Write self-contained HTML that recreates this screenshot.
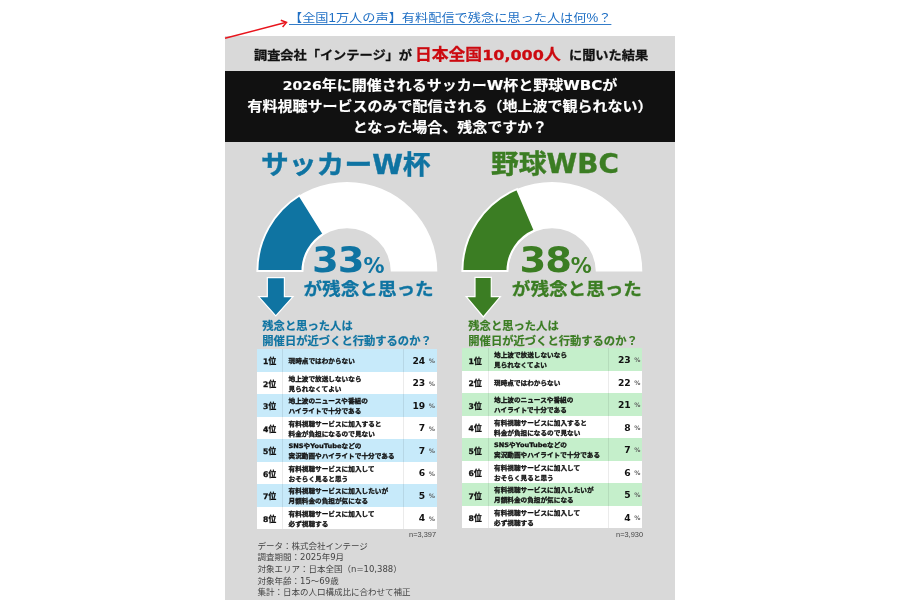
<!DOCTYPE html>
<html lang="ja">
<head>
<meta charset="utf-8">
<title>有料配信で残念に思った人は何%？</title>
<style>
html,body{margin:0;padding:0;background:#fff;}
body{width:900px;height:600px;position:relative;overflow:hidden;
  font-family:"DejaVu Sans","Noto Sans CJK JP",sans-serif;color:#111;}
.abs{position:absolute;white-space:nowrap;line-height:1;}
#panel{position:absolute;left:225px;top:36px;width:450px;height:564px;background:#d9d9d9;}
#banner{position:absolute;left:225px;top:71px;width:450px;height:71.2px;background:#111;}
#link{left:289px;top:11px;transform:scaleY(0.9);transform-origin:0 100%;font-size:13.2px;color:#1f6fc4;font-family:"Liberation Sans","Noto Sans CJK JP",sans-serif;
  text-decoration:underline;text-underline-offset:2px;}
.b{font-weight:bold;}
.sub{font-size:13.2px;font-weight:bold;color:#111;transform:scaleY(0.93);transform-origin:0 50%;-webkit-text-stroke:0.3px currentColor;}
.sub.red{color:#cc0a10;font-size:16.8px;}
.d{font-size:14px;}
.bl{left:225px;width:450px;text-align:center;color:#fff;font-weight:bold;font-size:15px;transform:scaleY(0.92);transform-origin:50% 50%;-webkit-text-stroke:0.2px #fff;}
.blue{color:#0f74a2;}
.green{color:#3b7d23;}
.title{font-size:27.8px;font-weight:bold;transform:scaleY(0.93);transform-origin:0 100%;-webkit-text-stroke:0.4px currentColor;}
.big{font-size:38.5px;font-weight:bold;letter-spacing:-1px;transform:scaleY(0.938);transform-origin:0 100%;}
.pct{font-size:21px;font-weight:bold;}
.zan{font-size:18.6px;font-weight:bold;transform:scaleY(0.94);transform-origin:0 50%;-webkit-text-stroke:0.3px currentColor;}
.q{font-size:11.3px;font-weight:bold;line-height:15px;white-space:nowrap;-webkit-text-stroke:0.2px currentColor;}
.tbl{position:absolute;}
.row{position:relative;height:22.5px;width:100%;background:#fff;}
.tb .row:nth-child(odd){background:#c7eafa;}
.tg .row:nth-child(odd){background:#c5efcb;}
.tg .row{height:22.5px;}
.row>div{position:absolute;top:0;height:100%;display:flex;align-items:center;white-space:nowrap;box-sizing:border-box;}
.row .r{left:0;width:26px;justify-content:center;font-size:7.7px;letter-spacing:0.3px;font-weight:bold;-webkit-text-stroke:0.3px #111;padding-top:0.8px;padding-left:0.6px;}
.row .l{left:25.6px;right:32.7px;border-left:1px solid rgba(0,0,0,0.08);border-right:1px solid rgba(0,0,0,0.08);padding-left:5.4px;padding-top:1.2px;
  font-size:6.65px;font-weight:bold;line-height:10px;-webkit-text-stroke:0.32px #111;}
.row .l span{display:inline-block;transform:scaleY(0.93);}
.row .v{right:0;width:32.7px;justify-content:flex-end;font-size:9.2px;font-weight:bold;padding-right:1.7px;}
.row .v i{font-style:normal;font-weight:bold;font-size:6.2px;color:#5a5a5a;margin-left:3.4px;width:6.2px;display:inline-block;position:relative;top:0.3px;}
.n{font-size:7.4px;color:#444;font-family:"Liberation Sans","Noto Sans CJK JP",sans-serif;}
#foot{left:257.5px;top:540.5px;font-size:8.5px;line-height:11.68px;color:#444;font-family:"DejaVu Sans","Noto Sans CJK JP",sans-serif;white-space:nowrap;}
</style>
</head>
<body>
<div id="panel"></div>
<div id="banner"></div>

<svg class="abs" style="left:0;top:0" width="900" height="600" viewBox="0 0 900 600">
  <line x1="225" y1="38.3" x2="285.5" y2="22.6" stroke="#e8141c" stroke-width="1.6"/>
  <path d="M280.8 20.3 L286.5 22.4 L282.6 27" fill="none" stroke="#e8141c" stroke-width="1.5"/>
</svg>

<div id="link" class="abs">【全国1万人の声】有料配信で残念に思った人は何%？</div>

<div class="abs sub" style="left:254px;top:48.5px">調査会社「インテージ」が</div>
<div class="abs sub red" style="left:415px;top:46.3px">日本全国<span style="font-size:16px">10,000</span>人</div>
<div class="abs sub" style="left:569px;top:48.5px">に聞いた結果</div>

<div class="abs bl" style="top:77.9px"><span class="d">2026</span>年に開催されるサッカーW杯と野球WBCが</div>
<div class="abs bl" style="top:99.4px">有料視聴サービスのみで配信される（地上波で観られない）</div>
<div class="abs bl" style="top:119.6px">となった場合、残念ですか？</div>

<!-- left -->
<div class="abs title blue" style="left:261px;top:151px">サッカーW杯</div>
<svg class="abs" style="left:0;top:0" width="900" height="600" viewBox="0 0 900 600">
  <!-- left donut -->
  <g transform="translate(347,271)">
    <path d="M-90.3 0.5 A90.3 89.5 0 0 1 90.3 0.5 L43.8 0.5 A43.8 43.2 0 0 0 -43.8 0.5 Z" fill="#fff"/>
    <path d="M-89.6 0 A89.6 89 0 0 1 -47.48 -75.48 L-23.63 -37.31 A44.6 44 0 0 0 -44.6 0 Z" fill="#0f74a2" stroke="#fff" stroke-width="1.9"/>
  </g>
  <g transform="translate(552,271)">
    <path d="M-90.3 0.5 A90.3 89.5 0 0 1 90.3 0.5 L43.8 0.5 A43.8 43.2 0 0 0 -43.8 0.5 Z" fill="#fff"/>
    <path d="M-89.6 0 A89.6 89 0 0 1 -35.01 -81.92 L-17.43 -40.50 A44.6 44 0 0 0 -44.6 0 Z" fill="#3b7d23" stroke="#fff" stroke-width="1.9"/>
  </g>
  <path d="M267.3 277.6 H284.4 V296.7 H293 L275.8 315.8 L258.6 296.7 H267.3 Z" fill="#0f74a2" stroke="#fff" stroke-width="1.2"/>
  <path d="M475 277.4 H491.3 V296.7 H500.4 L483.3 317 L466.2 296.7 H475 Z" fill="#3b7d23" stroke="#fff" stroke-width="1.2"/>
</svg>
<div class="abs big blue" style="left:312px;top:239.75px">33</div>
<div class="abs pct blue" style="left:363.5px;top:255.8px">%</div>
<div class="abs zan blue" style="left:303.5px;top:279.6px">が残念と思った</div>
<div class="abs q blue" style="left:262.3px;top:319px">残念と思った人は<br>開催日が近づくと行動するのか？</div>

<div class="tbl tb" style="left:256.5px;top:349.2px;width:180px">
<div class="row"><div class="r"><span>1位</span></div><div class="l"><span>現時点ではわからない</span></div><div class="v">24<i>%</i></div></div>
<div class="row"><div class="r"><span>2位</span></div><div class="l"><span>地上波で放送しないなら<br>見られなくてよい</span></div><div class="v">23<i>%</i></div></div>
<div class="row"><div class="r"><span>3位</span></div><div class="l"><span>地上波のニュースや番組の<br>ハイライトで十分である</span></div><div class="v">19<i>%</i></div></div>
<div class="row"><div class="r"><span>4位</span></div><div class="l"><span>有料視聴サービスに加入すると<br>料金が負担になるので見ない</span></div><div class="v">7<i>%</i></div></div>
<div class="row"><div class="r"><span>5位</span></div><div class="l"><span>SNSやYouTubeなどの<br>実況動画やハイライトで十分である</span></div><div class="v">7<i>%</i></div></div>
<div class="row"><div class="r"><span>6位</span></div><div class="l"><span>有料視聴サービスに加入して<br>おそらく見ると思う</span></div><div class="v">6<i>%</i></div></div>
<div class="row"><div class="r"><span>7位</span></div><div class="l"><span>有料視聴サービスに加入したいが<br>月額料金の負担が気になる</span></div><div class="v">5<i>%</i></div></div>
<div class="row"><div class="r"><span>8位</span></div><div class="l"><span>有料視聴サービスに加入して<br>必ず視聴する</span></div><div class="v">4<i>%</i></div></div>
</div>
<div class="abs n" style="left:336px;width:100px;text-align:right;top:531px">n=3,397</div>

<div id="foot" class="abs" style="line-height:11.68px">データ：株式会社インテージ<br>調査期間：2025年9月<br>対象エリア：日本全国（n=10,388）<br>対象年齢：15～69歳<br>集計：日本の人口構成比に合わせて補正</div>

<!-- right -->
<div class="abs title green" style="left:491px;top:150px">野球WBC</div>
<div class="abs big green" style="left:519.5px;top:239.75px">38</div>
<div class="abs pct green" style="left:570.8px;top:256px">%</div>
<div class="abs zan green" style="left:511.8px;top:280.1px">が残念と思った</div>
<div class="abs q green" style="left:468.3px;top:319px">残念と思った人は<br>開催日が近づくと行動するのか？</div>

<div class="tbl tg" style="left:462px;top:348.4px;width:180px">
<div class="row"><div class="r"><span>1位</span></div><div class="l"><span>地上波で放送しないなら<br>見られなくてよい</span></div><div class="v">23<i>%</i></div></div>
<div class="row"><div class="r"><span>2位</span></div><div class="l"><span>現時点ではわからない</span></div><div class="v">22<i>%</i></div></div>
<div class="row"><div class="r"><span>3位</span></div><div class="l"><span>地上波のニュースや番組の<br>ハイライトで十分である</span></div><div class="v">21<i>%</i></div></div>
<div class="row"><div class="r"><span>4位</span></div><div class="l"><span>有料視聴サービスに加入すると<br>料金が負担になるので見ない</span></div><div class="v">8<i>%</i></div></div>
<div class="row"><div class="r"><span>5位</span></div><div class="l"><span>SNSやYouTubeなどの<br>実況動画やハイライトで十分である</span></div><div class="v">7<i>%</i></div></div>
<div class="row"><div class="r"><span>6位</span></div><div class="l"><span>有料視聴サービスに加入して<br>おそらく見ると思う</span></div><div class="v">6<i>%</i></div></div>
<div class="row"><div class="r"><span>7位</span></div><div class="l"><span>有料視聴サービスに加入したいが<br>月額料金の負担が気になる</span></div><div class="v">5<i>%</i></div></div>
<div class="row"><div class="r"><span>8位</span></div><div class="l"><span>有料視聴サービスに加入して<br>必ず視聴する</span></div><div class="v">4<i>%</i></div></div>
</div>
<div class="abs n" style="left:543px;width:100px;text-align:right;top:531px">n=3,930</div>

</body>
</html>
